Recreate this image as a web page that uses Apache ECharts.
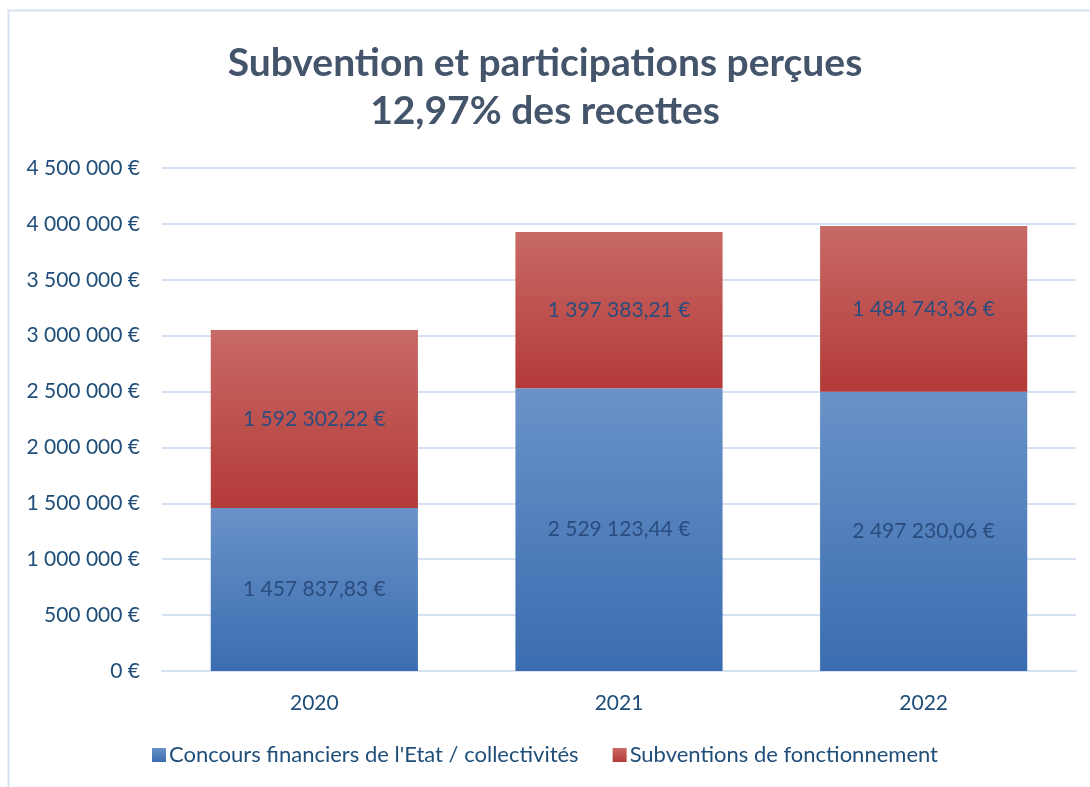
<!DOCTYPE html>
<html>
<head>
<meta charset="utf-8">
<script src="https://cdn.jsdelivr.net/npm/echarts@6/dist/echarts.min.js"></script>
<style>
  html, body { margin: 0; padding: 0; background: #ffffff; }
  #chart { width: 1090px; height: 787px; }
</style>
</head>
<body>
<div id="chart"></div>
<script>
// Years on the category axis
const years = ['2020', '2021', '2022'];
// Concours financiers de l'Etat / collectivités (€)
const concours = [1457837.83, 2529123.44, 2497230.06];
// Subventions de fonctionnement (€)
const subventions = [1592302.22, 1397383.21, 1484743.36];
const seriesNames = ["Concours financiers de l'Etat / collectivités", 'Subventions de fonctionnement'];
const titleLines = ['Subvention et participations perçues', '12,97% des recettes'];

const FONT = 'Lato, "Open Sans", sans-serif';
const TEXT_BLUE = '#1F4E79';

function groupThousands(n) {
  return String(n).replace(/\B(?=(\d{3})+(?!\d))/g, ' ');
}
function euroAxis(v) {
  return groupThousands(Math.round(v)) + ' €';
}
function euroValue(v) {
  const fixed = v.toFixed(2).split('.');
  return groupThousands(fixed[0]) + ',' + fixed[1] + ' €';
}
function vGrad(top, bottom) {
  return new echarts.graphic.LinearGradient(0, 0, 0, 1, [
    { offset: 0, color: top },
    { offset: 1, color: bottom }
  ]);
}

const chart = echarts.init(document.getElementById('chart'), null, { renderer: 'canvas' });

const labelStyle = {
  show: true,
  position: 'inside',
  color: '#2B4C7E',
  fontFamily: FONT,
  fontSize: 21,
  formatter: p => euroValue(p.value)
};

chart.setOption({
  backgroundColor: '#ffffff',
  animation: false,
  graphic: [{
    type: 'rect',
    shape: { x: 8.5, y: 10.5, width: 1100, height: 800 },
    style: { fill: 'none', stroke: '#D6E2F2', lineWidth: 2 },
    silent: true,
    z: -1
  }],
  title: {
    text: titleLines.join('\n'),
    left: 'center',
    top: 34,
    textStyle: {
      fontFamily: FONT,
      fontWeight: 'bold',
      fontSize: 39,
      color: '#44546A',
      lineHeight: 48
    }
  },
  legend: {
    bottom: 16,
    left: 'center',
    itemWidth: 14,
    itemHeight: 14,
    itemGap: 34,
    icon: 'rect',
    textStyle: { fontFamily: FONT, fontSize: 22, color: TEXT_BLUE, padding: [0, 0, 0, -2] },
    data: seriesNames
  },
  grid: { left: 162, right: 14, top: 168, bottom: 116 },
  xAxis: {
    type: 'category',
    data: years,
    axisLine: { show: true, lineStyle: { color: '#D6E2F2', width: 2 } },
    axisTick: { show: false },
    axisLabel: { fontFamily: FONT, fontSize: 21, color: TEXT_BLUE, margin: 22 }
  },
  yAxis: {
    type: 'value',
    min: 0,
    max: 4500000,
    interval: 500000,
    axisLine: { show: false },
    axisTick: { show: false },
    splitLine: { lineStyle: { color: '#D6E2F2', width: 2 } },
    axisLabel: { fontFamily: FONT, fontSize: 21, color: TEXT_BLUE, margin: 22, formatter: euroAxis }
  },
  series: [
    {
      name: seriesNames[0],
      type: 'bar',
      stack: 'total',
      barWidth: '68%',
      data: concours,
      itemStyle: { color: vGrad('#6A92C8', '#3A6DB0') },
      label: labelStyle
    },
    {
      name: seriesNames[1],
      type: 'bar',
      stack: 'total',
      barWidth: '68%',
      data: subventions,
      itemStyle: { color: vGrad('#C86A66', '#B33A38') },
      label: labelStyle
    }
  ]
});
</script>
</body>
</html>
